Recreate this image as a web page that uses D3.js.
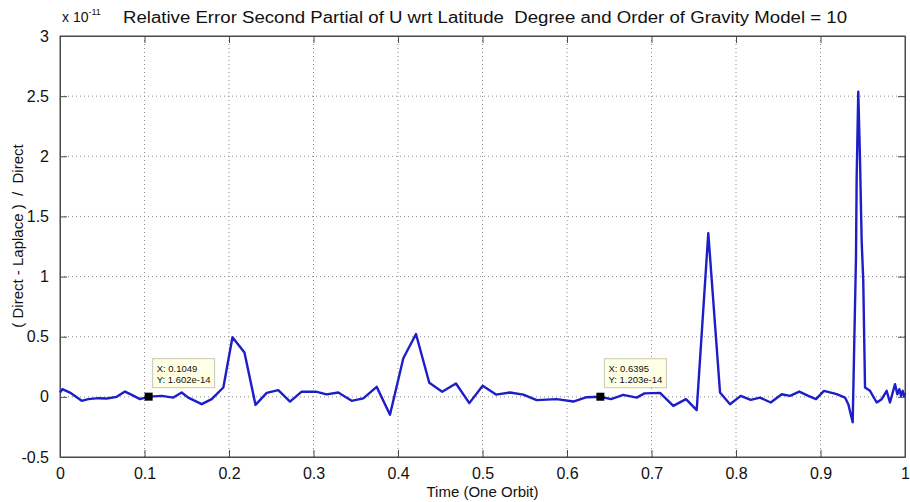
<!DOCTYPE html>
<html>
<head>
<meta charset="utf-8">
<script src="https://cdn.jsdelivr.net/npm/d3@7"></script>
<style>
  body { margin: 0; background: #fff; }
  text { font-family: "Liberation Sans", Arial, sans-serif; fill: #111; white-space: pre; }
</style>
</head>
<body>
<div id="chart"></div>
<script>
// time along one orbit (0..1)
var timeVals = [0, 0.0027, 0.0118, 0.0257, 0.0335, 0.0453, 0.0553, 0.0671, 0.0769, 0.0849,
  0.0947, 0.1049, 0.1204, 0.1341, 0.1440, 0.1518, 0.1677, 0.1795, 0.1933, 0.2041,
  0.2183, 0.2314, 0.2446, 0.2583, 0.2722, 0.2860, 0.3027, 0.3156, 0.3293, 0.3452,
  0.3589, 0.3748, 0.3905, 0.4063, 0.4213, 0.4370, 0.4523, 0.4686, 0.4844, 0.5002,
  0.5160, 0.5325, 0.5483, 0.5641, 0.5878, 0.6075, 0.6233, 0.6395, 0.6521, 0.6666,
  0.6825, 0.6917, 0.7101, 0.7258, 0.7408, 0.7535, 0.7672, 0.7811, 0.7929, 0.8056,
  0.8174, 0.8284, 0.8411, 0.8541, 0.8639, 0.8749, 0.8856, 0.8947, 0.9041, 0.9192,
  0.9290, 0.9329, 0.9381, 0.9397, 0.9420, 0.9428, 0.9447, 0.9467, 0.9487, 0.9506,
  0.9527, 0.9586, 0.9665, 0.9724, 0.9783, 0.9822, 0.9882, 0.9909, 0.9933, 0.9953,
  0.9973, 0.9988, 1.0];

// relative error, in units of 1e-11
var relErr = [0.036, 0.064, 0.036, -0.033, -0.019, -0.011, -0.014, 0.0, 0.044, 0.017,
  -0.019, 0.0016, 0.008, -0.006, 0.036, -0.006, -0.061, -0.019, 0.078, 0.496,
  0.369, -0.067, 0.033, 0.056, -0.039, 0.043, 0.043, 0.021, 0.036, -0.033,
  -0.013, 0.083, -0.148, 0.321, 0.523, 0.117, 0.042, 0.111, -0.052, 0.092,
  0.019, 0.036, 0.019, -0.027, -0.019, -0.039, -0.003, 0.0012, -0.019, 0.017,
  -0.006, 0.029, 0.033, -0.075, -0.019, -0.110, 1.361, 0.036, -0.061, 0.008,
  -0.025, -0.006, -0.047, 0.022, 0.008, 0.044, 0.008, -0.019, 0.050, 0.022,
  -0.006, -0.061, -0.211, 0.358, 1.161, 1.828, 2.536, 1.994, 1.300, 0.967,
  0.078, 0.050, -0.047, -0.019, 0.050, -0.047, 0.106, 0.022, 0.064, 0.008,
  0.050, 0.008, 0.033];

var xTicks = [0, 0.1, 0.2, 0.3, 0.4, 0.5, 0.6, 0.7, 0.8, 0.9, 1];
var yTicks = [-0.5, 0, 0.5, 1, 1.5, 2, 2.5, 3];

// data tips shown on the plot
var tipX = [0.1049, 0.6395];
var tipY = [0.001602, 0.001203];
var tipLabels = [["X: 0.1049", "Y: 1.602e-14"], ["X: 0.6395", "Y: 1.203e-14"]];

var svgWidth = 910, svgHeight = 502;
var plotLeft = 60, plotRight = 905, plotTop = 36, plotBottom = 457;

var svg = d3.select("#chart").append("svg")
  .attr("width", svgWidth)
  .attr("height", svgHeight);

var x = d3.scaleLinear().domain([0, 1]).range([plotLeft, plotRight]);
var y = d3.scaleLinear().domain([-0.5, 3]).range([plotBottom, plotTop]);

// dotted grid
svg.append("g").selectAll("line").data(xTicks.slice(1, -1)).enter().append("line")
  .attr("x1", d => x(d)).attr("x2", d => x(d))
  .attr("y1", plotTop).attr("y2", plotBottom)
  .attr("stroke", "#8a8a8a").attr("stroke-width", 1).attr("stroke-dasharray", "1,3");
svg.append("g").selectAll("line").data(yTicks.slice(1, -1)).enter().append("line")
  .attr("x1", plotLeft).attr("x2", plotRight)
  .attr("y1", d => y(d)).attr("y2", d => y(d))
  .attr("stroke", "#8a8a8a").attr("stroke-width", 1).attr("stroke-dasharray", "1,3");

// axes (ticks pointing inward on all four sides, MATLAB style)
var fmt = d => String(d);
svg.append("g").attr("transform", "translate(0," + plotBottom + ")")
  .call(d3.axisBottom(x).tickValues(xTicks).tickFormat(fmt).tickSizeInner(-7).tickSizeOuter(0).tickPadding(11));
svg.append("g").attr("transform", "translate(" + plotLeft + ",0)")
  .call(d3.axisLeft(y).tickValues(yTicks).tickFormat(fmt).tickSizeInner(-7).tickSizeOuter(0).tickPadding(11));
svg.append("g").attr("transform", "translate(0," + plotTop + ")")
  .call(d3.axisTop(x).tickValues(xTicks).tickFormat("").tickSizeInner(-7).tickSizeOuter(0));
svg.append("g").attr("transform", "translate(" + plotRight + ",0)")
  .call(d3.axisRight(y).tickValues(yTicks).tickFormat("").tickSizeInner(-7).tickSizeOuter(0));

svg.selectAll(".domain").attr("stroke", "#4a4a4a");
svg.selectAll(".tick line").attr("stroke", "#4a4a4a");
svg.selectAll(".tick text").attr("font-size", 16).attr("fill", "#111")
  .attr("font-family", "Liberation Sans, Arial, sans-serif");

// plot box
svg.append("rect")
  .attr("x", plotLeft).attr("y", plotTop)
  .attr("width", plotRight - plotLeft).attr("height", plotBottom - plotTop)
  .attr("fill", "none").attr("stroke", "#4a4a4a").attr("stroke-width", 1);

// the error line
var pts = timeVals.map((t, i) => [t, relErr[i]]);
var line = d3.line().x(d => x(d[0])).y(d => y(d[1]));
svg.append("path")
  .datum(pts)
  .attr("d", line)
  .attr("fill", "none")
  .attr("stroke", "#1e1ec8")
  .attr("stroke-width", 2.4)
  .attr("stroke-linejoin", "round");

// data tips
tipX.forEach(function(tx, i) {
  var px = x(tx), py = y(tipY[i]);
  var g = svg.append("g");
  g.append("rect")
    .attr("x", px + 4).attr("y", py - 38)
    .attr("width", 62).attr("height", 29)
    .attr("fill", "#ffffe6").attr("stroke", "#c8c8b4").attr("stroke-width", 1);
  g.selectAll("text").data(tipLabels[i]).enter().append("text")
    .attr("x", px + 8)
    .attr("y", (d, j) => py - 25 + j * 11)
    .attr("font-size", 9.5)
    .attr("fill", "#222")
    .text(d => d);
  g.append("rect")
    .attr("x", px - 4).attr("y", py - 4)
    .attr("width", 8).attr("height", 8)
    .attr("fill", "#000");
});

// exponent label
var expo = svg.append("text").attr("x", 62).attr("y", 22).attr("font-size", 14);
expo.append("tspan").text("x 10");
expo.append("tspan").attr("dy", -7).attr("font-size", 9).text("-11");

// title and axis labels
svg.append("text")
  .attr("x", 123).attr("y", 23)
  .attr("font-size", 16)
  .attr("textLength", 724).attr("lengthAdjust", "spacingAndGlyphs")
  .text("Relative Error Second Partial of U wrt Latitude  Degree and Order of Gravity Model = 10");

svg.append("text")
  .attr("x", x(0.5)).attr("y", 497)
  .attr("text-anchor", "middle")
  .attr("font-size", 15)
  .text("Time (One Orbit)");

svg.append("text")
  .attr("transform", "translate(23,236) rotate(-90)")
  .attr("text-anchor", "middle")
  .attr("font-size", 15)
  .text("( Direct - Laplace )  /  Direct");
</script>
</body>
</html>
